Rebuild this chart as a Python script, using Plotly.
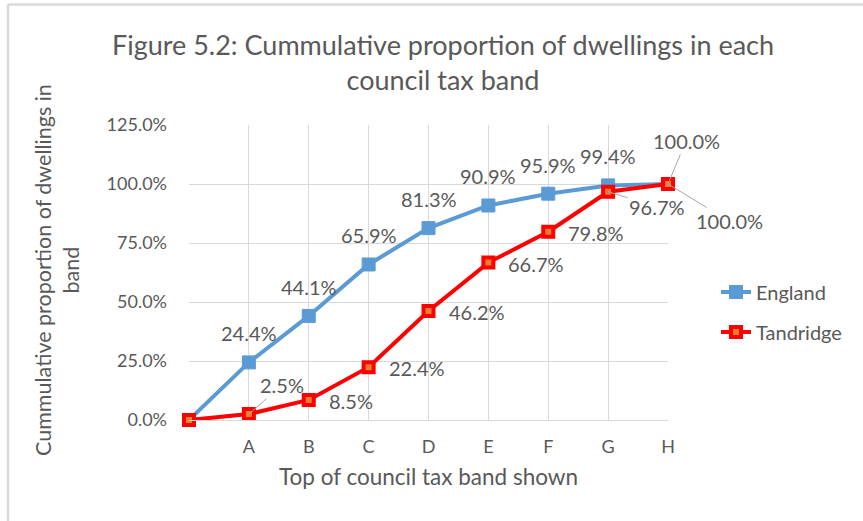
import plotly.graph_objects as go

categories = [" ", "A", "B", "C", "D", "E", "F", "G", "H"]
england = [0.0, 24.4, 44.1, 65.9, 81.3, 90.9, 95.9, 99.4, 100.0]
tandridge = [0.0, 2.5, 8.5, 22.4, 46.2, 66.7, 79.8, 96.7, 100.0]
y_ticks = [0, 25, 50, 75, 100, 125]

FONT = "Lato"
TXT = "#595959"
GRID = "#d9d9d9"
BLUE = "#5b9bd5"
RED = "#ff0000"
ORANGE = "#ed7d31"

W, H = 863, 521
L, R, T, B = 189, 195, 125, 101
PW, PH = W - L - R, H - T - B


def px_x(p):
    return (p - L) / PW


def px_y(p):
    return (H - B - p) / PH


fig = go.Figure()
fig.add_trace(go.Scatter(
    x=categories, y=england, name="England", mode="lines+markers",
    line=dict(color=BLUE, width=4),
    marker=dict(symbol="square", size=13, color=BLUE, line=dict(color=BLUE, width=1)),
    legendgroup="e", cliponaxis=False,
))
fig.add_trace(go.Scatter(
    x=categories, y=tandridge, name="Tandridge", mode="lines+markers",
    line=dict(color=RED, width=4),
    marker=dict(symbol="square", size=10, color=ORANGE, line=dict(color=RED, width=4)),
    legendgroup="t", cliponaxis=False,
))

annotations = []
lab_font = dict(family=FONT, size=20, color=TXT)

# England labels above points (indices 1..7), last with leader line
for i in range(1, 8):
    annotations.append(dict(x=categories[i], y=england[i], text=f"{england[i]:.1f}%",
                            showarrow=False, yshift=29, xanchor="center", yanchor="middle",
                            font=lab_font))
annotations.append(dict(x=categories[8], y=england[8], text=f"{england[8]:.1f}%",
                        showarrow=True, arrowhead=0, arrowwidth=1, arrowcolor="#a6a6a6",
                        ax=18, ay=-43, standoff=0, font=lab_font))

# Tandridge labels right of points
for i in [2, 3, 4, 5, 6]:
    annotations.append(dict(x=categories[i], y=tandridge[i], text=f"{tandridge[i]:.1f}%",
                            showarrow=False, xshift=18, yshift=-1, xanchor="left",
                            yanchor="middle", font=lab_font))
for i, (ax, ay) in {1: (33, -29), 7: (49, 15), 8: (61, 37)}.items():
    annotations.append(dict(x=categories[i], y=tandridge[i], text=f"{tandridge[i]:.1f}%",
                            showarrow=True, arrowhead=0, arrowwidth=1, arrowcolor="#a6a6a6",
                            ax=ax, ay=ay, standoff=0, font=lab_font))

# y axis title
annotations.append(dict(xref="paper", yref="paper", x=px_x(57), y=px_y(270),
                        text="Cummulative proportion of dwellings in<br>band",
                        textangle=-90, showarrow=False, xanchor="center", yanchor="middle",
                        font=dict(family=FONT, size=21.5, color=TXT)))

shapes = [
    dict(type="line", xref="paper", yref="paper", x0=px_x(8), x1=px_x(863),
         y0=px_y(4.5), y1=px_y(4.5), line=dict(color=GRID, width=2.5)),
    dict(type="line", xref="paper", yref="paper", x0=px_x(8), x1=px_x(8),
         y0=px_y(4.5), y1=px_y(521), line=dict(color=GRID, width=2.5)),
]

fig.update_layout(
    width=W, height=H, autosize=False,
    margin=dict(l=L, r=R, t=T, b=B, pad=0),
    paper_bgcolor="white", plot_bgcolor="white",
    font=dict(family=FONT, color=TXT),
    title=dict(text="Figure 5.2: Cummulative proportion of dwellings in each<br>council tax band",
               x=443 / W, xref="container", xanchor="center",
               y=1 - 55 / H, yref="container", yanchor="middle",
               font=dict(family=FONT, size=27, color=TXT)),
    xaxis=dict(type="category", categoryorder="array", categoryarray=categories,
               range=[0, 8], showgrid=True, gridcolor=GRID, gridwidth=1,
               showline=True, linecolor=GRID, linewidth=1, mirror=False,
               ticks="", tickfont=dict(family=FONT, size=18, color=TXT),
               ticklabelstandoff=10,
               title=dict(text="Top of council tax band shown", standoff=13,
                          font=dict(family=FONT, size=22.5, color=TXT))),
    yaxis=dict(range=[0, 125], tickvals=y_ticks, ticktext=[f"{v:.1f}%" for v in y_ticks],
               showgrid=True, gridcolor=GRID, gridwidth=1, zeroline=False,
               showline=False, ticks="", tickfont=dict(family=FONT, size=18, color=TXT),
               ticklabelstandoff=21),
    legend=dict(x=px_x(716), y=px_y(312), xanchor="left", yanchor="middle",
                font=dict(family=FONT, size=20, color=TXT), tracegroupgap=11,
                traceorder="grouped", bgcolor="rgba(0,0,0,0)"),
    annotations=annotations,
    shapes=shapes,
)

fig.write_html("out.html", config={"displayModeBar": False},
               post_script="document.body.style.margin='0px';")
